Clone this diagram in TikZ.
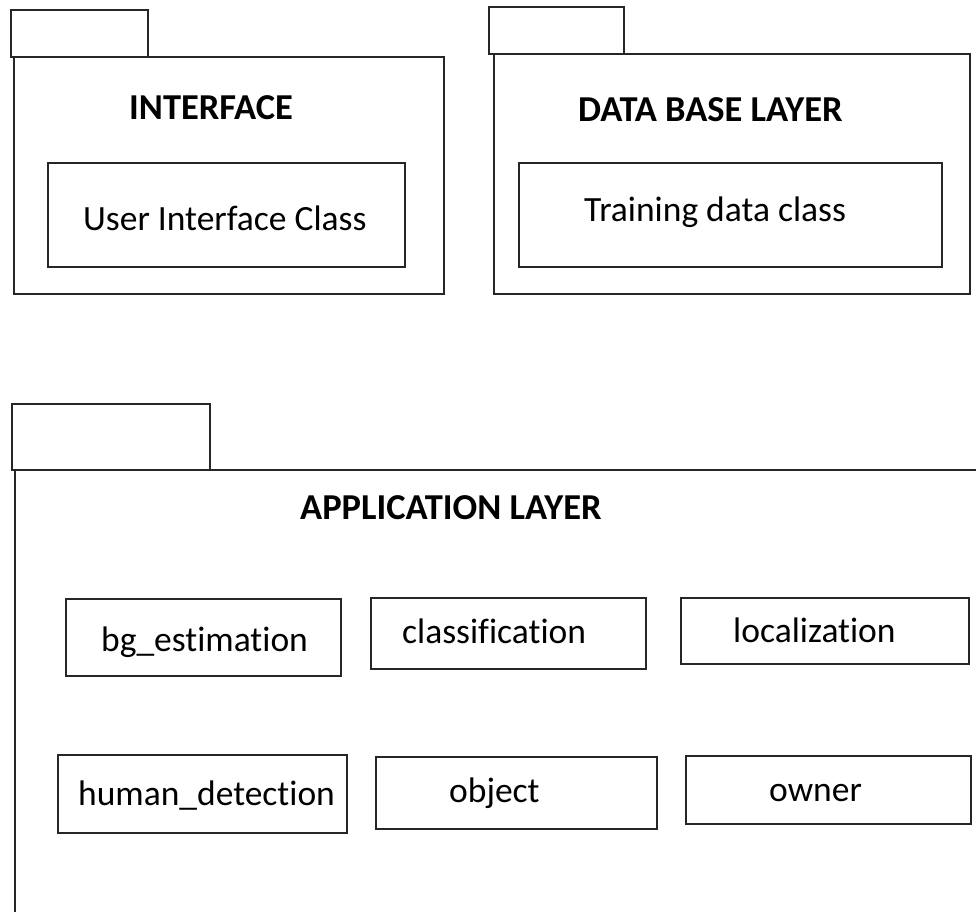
\documentclass[tikz,border=0pt]{standalone}
\usepackage{fontspec}
\setmainfont[Ligatures=NoCommon]{Carlito}
\begin{document}
\begin{tikzpicture}[x=1pt,y=-1pt,
  frame/.style={draw=black!85,line width=1.6pt},
  cls/.style={draw=black!85,line width=1.6pt,rectangle,inner sep=0pt},
  title/.style={anchor=base west,inner sep=0pt,font=\fontsize{36.5}{42}\selectfont\bfseries},
  lbl/.style={anchor=base west,inner sep=0pt,font=\fontsize{35.5}{42}\selectfont}]
\useasboundingbox (0,0) rectangle (976,911);
% INTERFACE package
\draw[frame] (11,10) rectangle (148,57);
\draw[frame] (14,57) rectangle (444,294);
\node[title] (t1) at (129,119) {INTERFACE};
\node[cls,minimum width=357pt,minimum height=104pt] (b1) at (226.5,215) {};
\node[lbl] (l1) at (83,230) {User Interface Class};
% DATA BASE package
\draw[frame] (489,7) rectangle (624,54);
\draw[frame] (494,54) rectangle (970,294);
\node[title] (t2) at (578,121) {DATA BASE LAYER};
\node[cls,minimum width=423pt,minimum height=104pt] (b2) at (730.5,215) {};
\node[lbl] (l2) at (584,221) {Training data class};
% APPLICATION package
\draw[frame] (12,404) rectangle (210,470);
\draw[frame] (15,920) -- (15,470) -- (990,470);
\node[title] (t3) at (300,519) {APPLICATION LAYER};
\node[cls,minimum width=275pt,minimum height=77pt] (c1) at (203.5,637.5) {};
\node[lbl] (m1) at (101,651) {bg\_estimation};
\node[cls,minimum width=275pt,minimum height=71pt] (c2) at (508.5,633.5) {};
\node[lbl] (m2) at (402,643) {classification};
\node[cls,minimum width=288pt,minimum height=66pt] (c3) at (825,631) {};
\node[lbl] (m3) at (733,642) {localization};
\node[cls,minimum width=289pt,minimum height=78pt] (c4) at (202.5,794) {};
\node[lbl] (m4) at (78,805) {human\_detection};
\node[cls,minimum width=281pt,minimum height=72pt] (c5) at (516.5,793) {};
\node[lbl] (m5) at (449,802) {object};
\node[cls,minimum width=285pt,minimum height=68pt] (c6) at (828.5,790) {};
\node[lbl] (m6) at (769,801) {owner};
\end{tikzpicture}
\end{document}
